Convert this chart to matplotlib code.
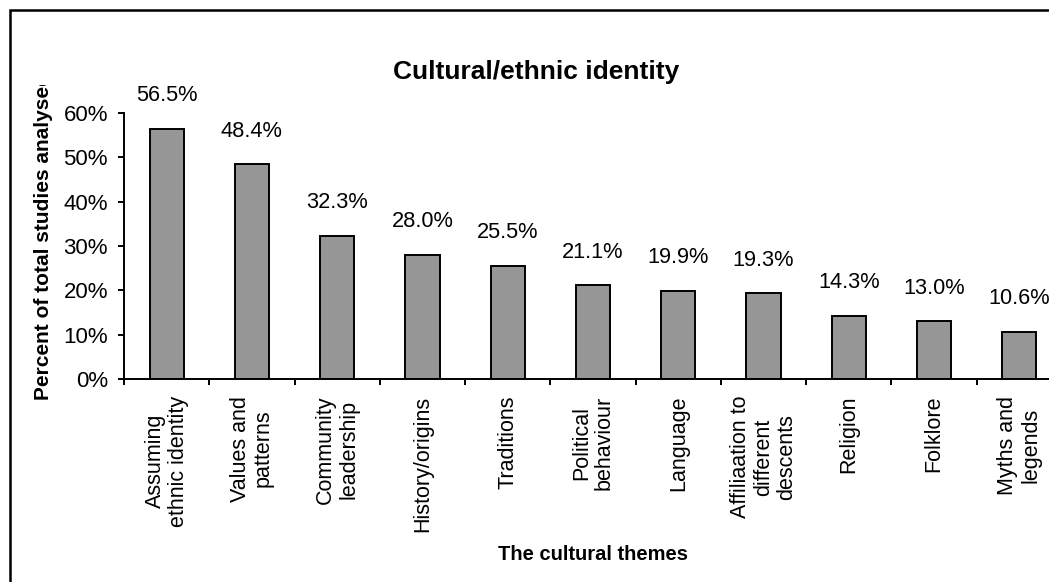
import numpy as np
import matplotlib
matplotlib.use('Agg')
import matplotlib.pyplot as plt
from matplotlib.patches import Rectangle
from matplotlib.transforms import Bbox, TransformedBbox

#--------------------------------------------
# data
themes = ['Assuming\nethnic identity', 'Values and\npatterns', 'Community\nleadership',
          'History/origins', 'Traditions', 'Political\nbehaviour', 'Language',
          'Affiliaation to\ndifferent\ndescents', 'Religion', 'Folklore', 'Myths and\nlegends']
percents = [56.5, 48.4, 32.3, 28.0, 25.5, 21.1, 19.9, 19.3, 14.3, 13.0, 10.6]
yticks = [0, 10, 20, 30, 40, 50, 60]
title = 'Cultural/ethnic identity'
xlabel = 'The cultural themes'
ylabel = 'Percent of total studies analysed'
#--------------------------------------------

W, H = 1049, 582
plt.rcParams['font.family'] = ['Liberation Sans', 'DejaVu Sans']

fig = plt.figure(figsize=(W / 100, H / 100), dpi=100)
ax = fig.add_axes([124 / W, 1 - 379 / H, 938 / W, (379 - 113) / H])

x = np.arange(len(themes))
ax.bar(x, percents, width=0.4, color='#969696', edgecolor='black', linewidth=1.4)
for xi, v in zip(x, percents):
    ax.annotate('%.1f%%' % v, (xi, v), xytext=(0, 24), textcoords='offset points',
                ha='center', va='center', fontsize=15.7)

ax.set_xlim(-0.5, len(themes) - 0.5)
ax.set_ylim(0, 60)
ax.set_yticks(yticks)
ax.set_yticklabels(['%d%%' % t for t in yticks], fontsize=16)
ax.tick_params(axis='y', direction='out', length=4.5, width=1.4, pad=7)

# ticks between categories, labels at centers
ax.set_xticks(np.arange(len(themes) + 1) - 0.5)
ax.set_xticklabels([])
ax.set_xticks(x, minor=True)
ax.set_xticklabels(themes, minor=True, rotation=90, ha='center', va='top',
                   multialignment='center', fontsize=15.5, linespacing=1.12)
ax.tick_params(axis='x', which='major', direction='out', length=4.5, width=1.4)
ax.tick_params(axis='x', which='minor', length=0, pad=12)

for s in ['top', 'right']:
    ax.spines[s].set_visible(False)
for s in ['left', 'bottom']:
    ax.spines[s].set_linewidth(1.4)

fig.text(536 / W, 1 - 72 / H, title, ha='center', va='center', fontsize=19, fontweight='bold')
fig.text(593 / W, 1 - 554 / H, xlabel, ha='center', va='center', fontsize=14.5, fontweight='bold')
yl = fig.text(44 / W, 1 - 400 / H, ylabel, rotation=90, ha='center', va='bottom',
              fontsize=15, fontweight='bold')
yl.set_clip_box(TransformedBbox(Bbox.from_extents(0, 0, 1, 1 - 85 / H), fig.transFigure))
yl.set_clip_on(True)

# outer chart border (runs off the right and bottom edge)
fig.patches.append(Rectangle((9.5 / W, -0.1), 1.2, 1.1 - 9.5 / H, transform=fig.transFigure,
                             fill=False, edgecolor='black', linewidth=1.8))

fig.savefig('out.png', dpi=100)
